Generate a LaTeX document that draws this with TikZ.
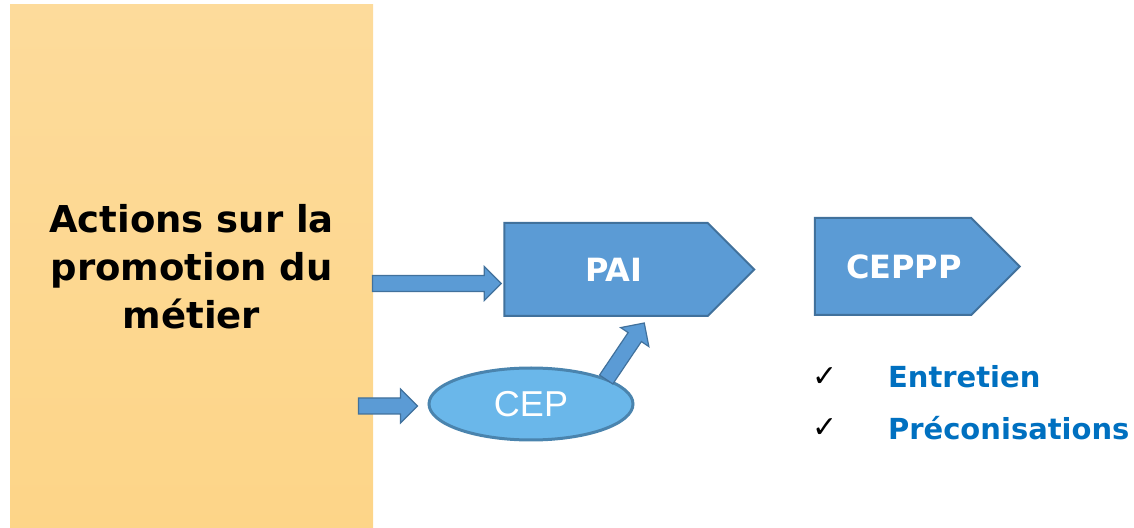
\documentclass[tikz,border=0pt]{standalone}
\usepackage{fontspec}
\setmainfont{DejaVu Sans}
\newfontfamily\arialfont{Liberation Sans}
\usetikzlibrary{calc,shapes.symbols,shapes.geometric}

\definecolor{boxorange}{HTML}{FDDB9B}
\definecolor{boxorangedark}{HTML}{FDD588}
\definecolor{stepblue}{HTML}{5B9BD5}
\definecolor{stepborder}{HTML}{41719C}
\definecolor{cepblue}{HTML}{6AB7EA}
\definecolor{cepborder}{HTML}{4A84AE}
\definecolor{textblue}{HTML}{0070C0}

\tikzset{
  stepbox/.style={signal,signal to=east,signal pointer angle=90,
    fill=stepblue,draw=stepborder,line width=1pt,inner sep=0pt,
    text=white,font=\bfseries\fontsize{16}{18}\selectfont},
  arrowbody/.style={fill=stepblue,draw=stepborder,line width=0.6pt,line join=miter},
  itemtext/.style={anchor=west,text=textblue,font=\bfseries\fontsize{14.5}{16}\selectfont},
  checkmark/.style={font=\fontsize{15}{16}\selectfont}
}

% fat block arrow from #1 to #2
\newcommand\fatarrow[2]{%
  \coordinate (fah) at ($(#2)!8.5pt!(#1)$);
  \filldraw[arrowbody] ($(#1)!4pt!90:(#2)$) -- ($(fah)!4pt!90:(#2)$)
    -- ($(fah)!8.5pt!90:(#2)$) -- (#2) -- ($(fah)!8.5pt!-90:(#2)$)
    -- ($(fah)!4pt!-90:(#2)$) -- ($(#1)!4pt!-90:(#2)$) -- cycle;}

\begin{document}
\begin{tikzpicture}[x=0.5pt,y=-0.5pt]
\useasboundingbox (0,0) rectangle (1134,528);

% left box
\node[top color=boxorange,bottom color=boxorangedark,draw=none,
  minimum width=181.5pt,minimum height=261.5pt,inner sep=0pt,
  align=center,font=\bfseries\fontsize{18.5}{24}\selectfont]
  (act) at (191.5,266.5) {Actions sur la\\promotion du\\métier};

% steps
\node[stepbox,minimum width=125pt,minimum height=46.5pt] (pai) at (606,269.5) {\hspace*{8pt}PAI};
\node[stepbox,minimum width=102.5pt,minimum height=48.5pt] (ceppp) at (893,266.5) {\hspace*{11pt}CEPPP};

\node[ellipse,fill=cepblue,draw=cepborder,line width=1.5pt,
  minimum width=102pt,minimum height=36pt,inner sep=0pt,
  text=white,font=\arialfont\fontsize{18}{20}\selectfont] (cep) at (531,404) {CEP};

% arrows
\coordinate (a1s) at ($(act.east |- pai.west)+(-1,14)$);
\coordinate (a1e) at ($(pai.west)+(-2,14)$);
\fatarrow{a1s}{a1e}

\coordinate (a2s) at ($(cep.west)+(-69,2)$);
\coordinate (a2e) at ($(cep.west)+(-10,2)$);
\fatarrow{a2s}{a2e}

\coordinate (a3s) at ($(cep.north east)+(2,2)$);
\coordinate (a3e) at ($(pai.south west)+(141,6)$);
\fatarrow{a3s}{a3e}

% list
\node[checkmark] (chk1) at (825,377) {✓};
\node[checkmark] (chk2) at (825,428) {✓};
\node[itemtext] (ent) at (881,377) {Entretien};
\node[itemtext] (pre) at (881,428) {Préconisations};

\end{tikzpicture}
\end{document}
